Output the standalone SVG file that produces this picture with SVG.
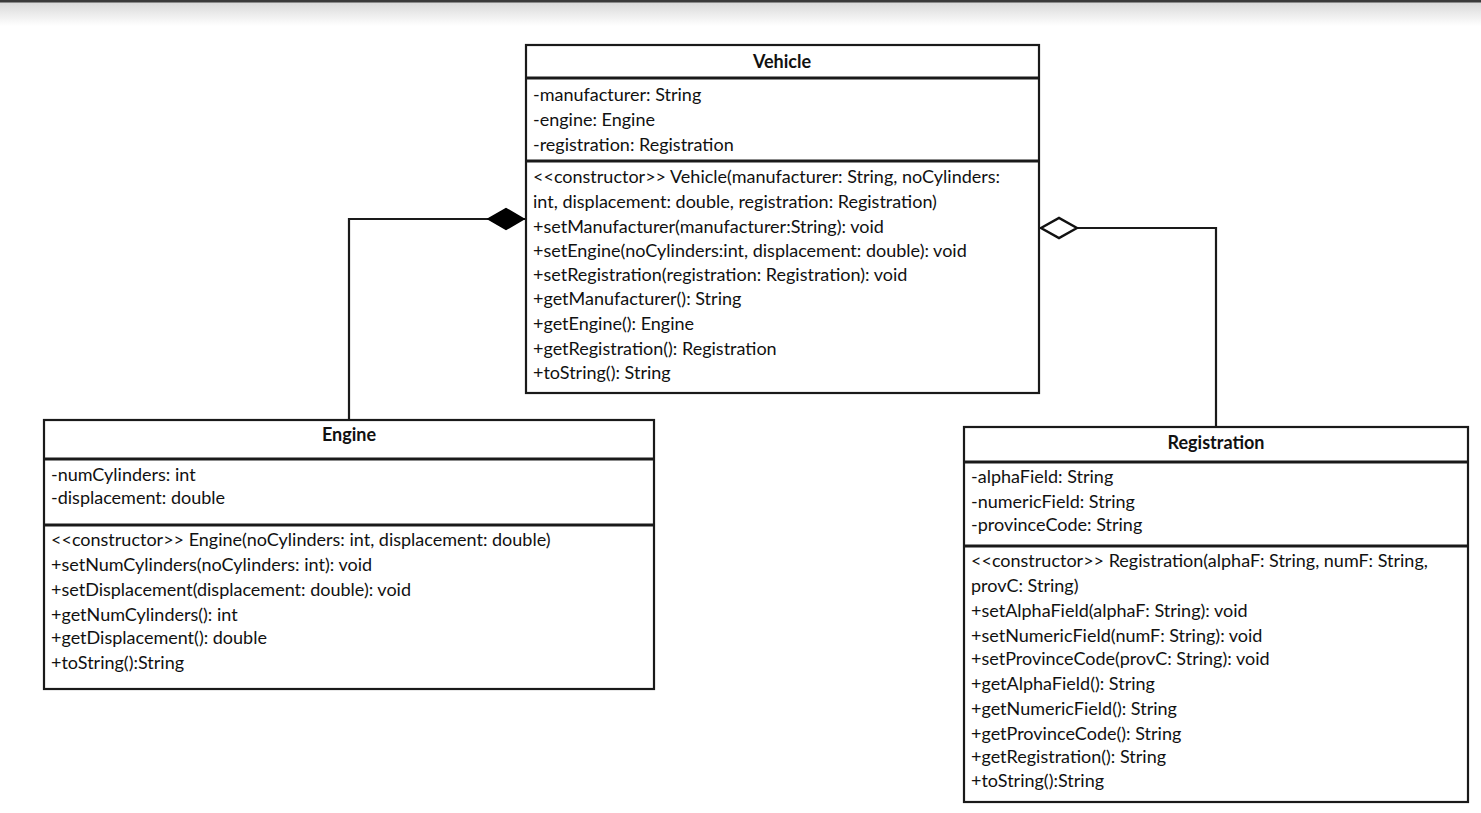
<svg xmlns="http://www.w3.org/2000/svg" width="1481" height="813" viewBox="0 0 1481 813">
<defs>
<linearGradient id="topShade" x1="0" y1="0" x2="0" y2="1">
<stop offset="0" stop-color="#d8d8d8"/>
<stop offset="1" stop-color="#ffffff"/>
</linearGradient>
<marker id="comp" viewBox="0 0 38 24" refX="38" refY="12" markerWidth="38" markerHeight="24" markerUnits="userSpaceOnUse" orient="auto">
<path d="M1,12 L19,1.5 L37,12 L19,22.5 Z" fill="#000" stroke="#000" stroke-width="1.5"/>
</marker>
<marker id="aggr" viewBox="0 0 40 24" refX="39" refY="12" markerWidth="40" markerHeight="24" markerUnits="userSpaceOnUse" orient="auto">
<path d="M2,12 L20,2 L38,12 L20,22 Z" fill="#fff" stroke="#111" stroke-width="2.5"/>
</marker>
</defs>
<style>
.box{fill:#fff;stroke:#1a1a1a;stroke-width:2.2}
.div{stroke:#1a1a1a;stroke-width:3}
.t{font-family:Lato,"Open Sans",sans-serif;font-size:18px;fill:#111}
.h{font-family:Lato,"Open Sans",sans-serif;font-size:18px;font-weight:bold;fill:#111;text-anchor:middle}
.conn{fill:none;stroke:#1a1a1a;stroke-width:2.2}
</style>
<rect x="0" y="0" width="1481" height="813" fill="#fff"/>
<rect x="0" y="2" width="1481" height="24" fill="url(#topShade)"/>
<rect x="0" y="0" width="1481" height="2.5" fill="#3a3a3a"/>

<g id="connectors">
<path class="conn" d="M349,420 L349,219 L525,219" marker-end="url(#comp)"/>
<path class="conn" d="M1216,427 L1216,228 L1040,228" marker-end="url(#aggr)"/>
</g>

<g id="vehicle">
<rect class="box" x="526" y="45" width="513" height="348"/>
<line class="div" x1="526" y1="78" x2="1039" y2="78"/>
<line class="div" x1="526" y1="161" x2="1039" y2="161"/>
<text class="h" x="782" y="68">Vehicle</text>
<text class="t" x="533" y="101">-manufacturer: String</text>
<text class="t" x="533" y="126">-engine: Engine</text>
<text class="t" x="533" y="151">-registration: Registration</text>
<text class="t" x="533" y="183">&lt;&lt;constructor&gt;&gt; Vehicle(manufacturer: String, noCylinders:</text>
<text class="t" x="533" y="208">int, displacement: double, registration: Registration)</text>
<text class="t" x="533" y="233">+setManufacturer(manufacturer:String): void</text>
<text class="t" x="533" y="257">+setEngine(noCylinders:int, displacement: double): void</text>
<text class="t" x="533" y="281">+setRegistration(registration: Registration): void</text>
<text class="t" x="533" y="305">+getManufacturer(): String</text>
<text class="t" x="533" y="330">+getEngine(): Engine</text>
<text class="t" x="533" y="355">+getRegistration(): Registration</text>
<text class="t" x="533" y="379">+toString(): String</text>
</g>

<g id="engine">
<rect class="box" x="44" y="420" width="610" height="269"/>
<line class="div" x1="44" y1="459" x2="654" y2="459"/>
<line class="div" x1="44" y1="525" x2="654" y2="525"/>
<text class="h" x="349" y="441">Engine</text>
<text class="t" x="51" y="481">-numCylinders: int</text>
<text class="t" x="51" y="504">-displacement: double</text>
<text class="t" x="51" y="546">&lt;&lt;constructor&gt;&gt; Engine(noCylinders: int, displacement: double)</text>
<text class="t" x="51" y="571">+setNumCylinders(noCylinders: int): void</text>
<text class="t" x="51" y="596">+setDisplacement(displacement: double): void</text>
<text class="t" x="51" y="621">+getNumCylinders(): int</text>
<text class="t" x="51" y="644">+getDisplacement(): double</text>
<text class="t" x="51" y="669">+toString():String</text>
</g>

<g id="registration">
<rect class="box" x="964" y="427" width="504" height="375"/>
<line class="div" x1="964" y1="462" x2="1468" y2="462"/>
<line class="div" x1="964" y1="546" x2="1468" y2="546"/>
<text class="h" x="1216" y="449">Registration</text>
<text class="t" x="971" y="483">-alphaField: String</text>
<text class="t" x="971" y="508">-numericField: String</text>
<text class="t" x="971" y="531">-provinceCode: String</text>
<text class="t" x="971" y="567">&lt;&lt;constructor&gt;&gt; Registration(alphaF: String, numF: String,</text>
<text class="t" x="971" y="592">provC: String)</text>
<text class="t" x="971" y="617">+setAlphaField(alphaF: String): void</text>
<text class="t" x="971" y="642">+setNumericField(numF: String): void</text>
<text class="t" x="971" y="665">+setProvinceCode(provC: String): void</text>
<text class="t" x="971" y="690">+getAlphaField(): String</text>
<text class="t" x="971" y="715">+getNumericField(): String</text>
<text class="t" x="971" y="740">+getProvinceCode(): String</text>
<text class="t" x="971" y="763">+getRegistration(): String</text>
<text class="t" x="971" y="787">+toString():String</text>
</g>
</svg>
